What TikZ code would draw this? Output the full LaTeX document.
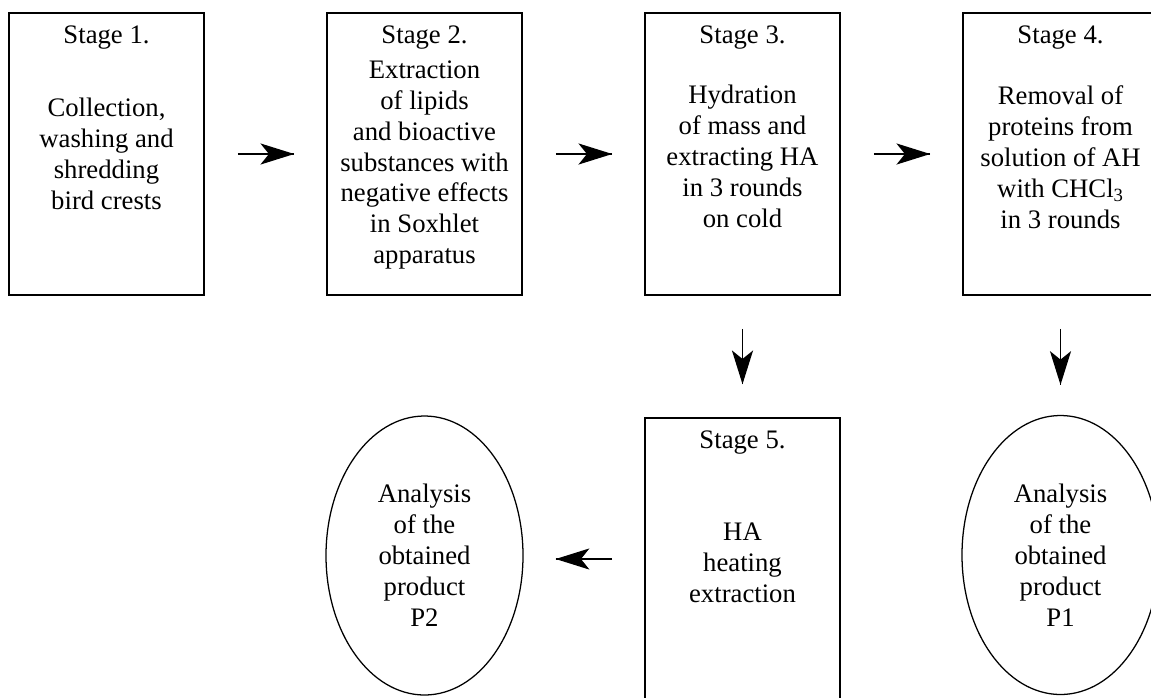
\documentclass[tikz,border=0pt]{standalone}
\usepackage{fontspec}
\setmainfont{Liberation Serif}
\usetikzlibrary{arrows.meta,decorations.markings,shapes.geometric}

\tikzset{
  stage/.style={draw,line width=1.1pt,minimum width=4.875cm,minimum height=7.05cm,inner sep=0pt},
  txt/.style={align=center,font=\fontsize{19}{22}\selectfont},
  result/.style={draw,ellipse,line width=0.9pt,minimum width=4.925cm,minimum height=6.975cm,
    inner sep=0pt,align=center,font=\fontsize{19}{22}\selectfont},
  flow/.style={line width=0.9pt,decoration={markings,mark=at position 1 with
    {\arrow{Stealth[length=24pt,width=15pt,inset=6pt]}}},postaction={decorate}}
}

\begin{document}
\begin{tikzpicture}
\useasboundingbox (0,0) rectangle (28.775,-17.425);
\clip (0,0) rectangle (28.775,-17.425);
% top row
\node[stage] (s1) at (2.6625,-3.85) {};
\node[txt] (s1t) at ([yshift=-0.625cm]s1.north) {Stage 1.};
\node[txt] (s1b) at (s1.center) {Collection,\\washing and\\shredding\\bird crests};
\node[stage] (s2) at (10.6125,-3.85) {};
\node[txt] (s2t) at ([yshift=-0.625cm]s2.north) {Stage 2.};
\node[txt] (s2b) at ([yshift=-0.275cm]s2.center) {Extraction\\of lipids\\and bioactive\\substances with\\negative effects\\in Soxhlet\\apparatus};
\node[stage] (s3) at (18.5625,-3.85) {};
\node[txt] (s3t) at ([yshift=-0.625cm]s3.north) {Stage 3.};
\node[txt] (s3b) at ([yshift=-0.05cm]s3.center) {Hydration\\of mass and\\extracting HA\\in 3 rounds\\on cold};
\node[stage] (s4) at (26.5125,-3.85) {};
\node[txt] (s4t) at ([yshift=-0.625cm]s4.north) {Stage 4.};
\node[txt] (s4b) at ([yshift=-0.075cm]s4.center) {Removal of\\proteins from\\solution of AH\\with CHCl\textsubscript{3}\\in 3 rounds};
% bottom row
\node[stage] (s5) at (18.5625,-13.975) {};
\node[txt] (s5t) at ([yshift=-0.625cm]s5.north) {Stage 5.};
\node[txt] (s5b) at ([yshift=-0.1cm]s5.center) {HA\\heating\\extraction};
\node[result] (p2) at (10.6125,-13.8875) {Analysis\\of the\\obtained\\product\\P2};
\node[result] (p1) at (26.5125,-13.875) {Analysis\\of the\\obtained\\product\\P1};
\coordinate (p2in) at (p2.east |- s5.west);
% arrows
\draw[flow] ([xshift=0.825cm]s1.east) -- ([xshift=-0.8cm]s2.west);
\draw[flow] ([xshift=0.825cm]s2.east) -- ([xshift=-0.8cm]s3.west);
\draw[flow] ([xshift=0.825cm]s3.east) -- ([xshift=-0.8cm]s4.west);
\draw[flow] ([yshift=-0.825cm]s3.south) -- ([yshift=0.825cm]s5.north);
\draw[flow] ([yshift=-0.825cm]s4.south) -- ([yshift=0.75cm]p1.north);
\draw[flow] ([xshift=-0.8cm]s5.west) -- ([xshift=0.8cm]p2in);
\end{tikzpicture}
\end{document}
